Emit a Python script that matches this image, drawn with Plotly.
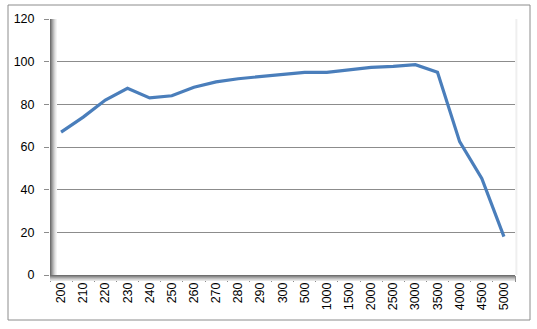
import plotly.graph_objects as go

categories = ["200", "210", "220", "230", "240", "250", "260", "270", "280", "290",
              "300", "500", "1000", "1500", "2000", "2500", "3000", "3500", "4000",
              "4500", "5000"]
values = [67, 74, 82, 87.5, 83, 84, 88, 90.5, 92, 93, 94, 95, 95, 96, 97.3, 97.8,
          98.6, 95, 62.5, 45.3, 18]

y_ticks = [0, 20, 40, 60, 80, 100, 120]

fig = go.Figure()
fig.add_trace(go.Scatter(x=categories, y=values, mode="lines",
                         line=dict(color="#4a7ebb", width=3.2), showlegend=False))

font = dict(family="Liberation Sans, Arial, sans-serif", size=12.5, color="#000000")

shapes = []
# outer chart border
shapes.append(dict(type="rect", xref="paper", yref="paper", x0=-42/465, x1=(530-50)/465,
                   y0=-45/256, y1=(275-5)/256, line=dict(color="#8c8c8c", width=1),
                   fillcolor="rgba(0,0,0,0)", layer="below"))
# shadow on left side of plot area (gradient)
grays = ["#6f6f6f", "#8a8a8a", "#a4a4a4", "#bdbdbd", "#d4d4d4", "#e6e6e6", "#f3f3f3"]
for i, g in enumerate(grays):
    shapes.append(dict(type="line", xref="x domain", yref="y domain",
                       x0=(i + 0.5) / 465, x1=(i + 0.5) / 465, y0=-0.0, y1=1.0,
                       line=dict(color=g, width=1), layer="above"))
# shadow on bottom
for i, g in enumerate(grays[:6]):
    shapes.append(dict(type="line", xref="x domain", yref="y domain",
                       x0=0, x1=1.0, y0=-(i + 0.5) / 256, y1=-(i + 0.5) / 256,
                       line=dict(color=g, width=1), layer="above"))
# faint right shadow
shapes.append(dict(type="line", xref="x domain", yref="y domain", x0=1.003, x1=1.003,
                   y0=0, y1=1, line=dict(color="#efefef", width=2), layer="below"))

fig.update_layout(
    width=537, height=329,
    margin=dict(l=50, r=22, t=19, b=54),
    paper_bgcolor="white", plot_bgcolor="white",
    font=font,
    shapes=shapes,
    xaxis=dict(type="category", categoryorder="array", categoryarray=categories,
               tickson="boundaries", ticks="outside", ticklen=6, tickcolor="#8c8c8c",
               tickangle=-90, showgrid=False, showline=False, zeroline=False,
               ticklabelstandoff=4,
               tickfont=font, range=[-0.5, len(categories) - 0.5], automargin=False),
    yaxis=dict(range=[0, 120], tickvals=y_ticks, ticktext=[str(v) for v in y_ticks],
               ticks="outside", ticklen=5, tickcolor="#8c8c8c", ticklabelstandoff=7,
               showgrid=True, gridcolor="#8c8c8c", gridwidth=1,
               showline=False, zeroline=False, tickfont=font, automargin=False),
)

fig.write_html("out.html")
